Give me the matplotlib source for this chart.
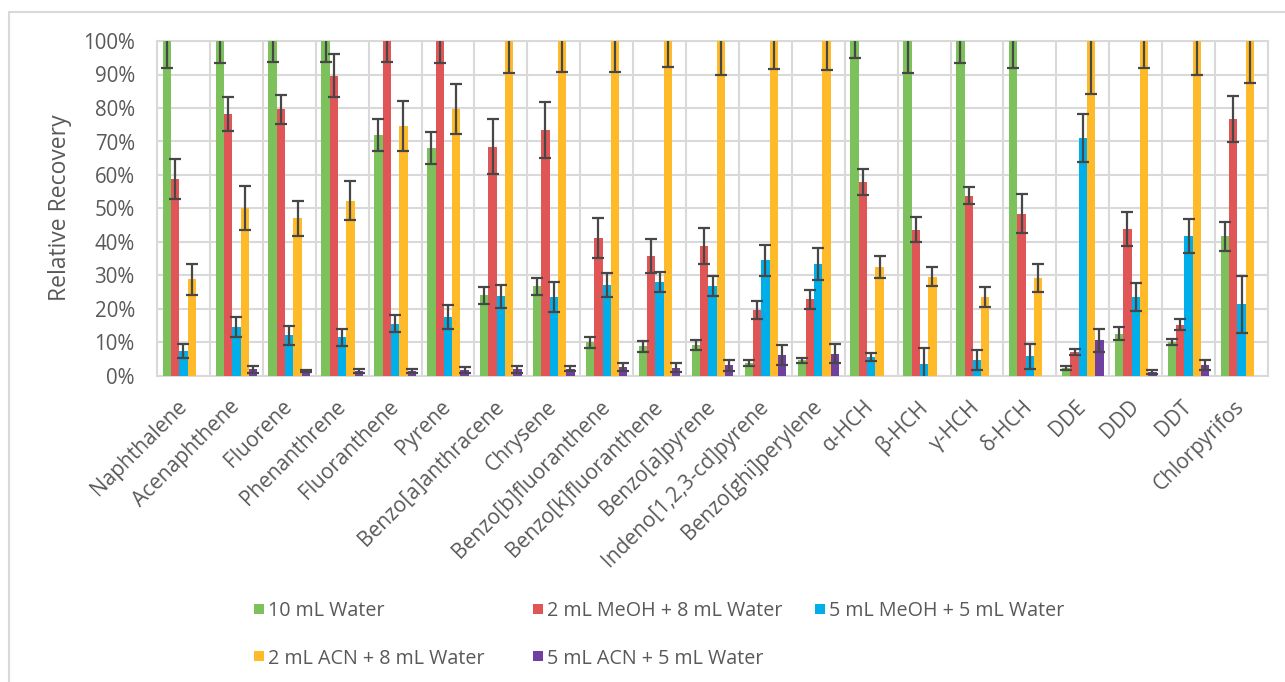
import numpy as np
import matplotlib
matplotlib.use("Agg")
import matplotlib.pyplot as plt
from matplotlib.patches import Rectangle
from matplotlib.ticker import PercentFormatter, MultipleLocator

categories = ["Naphthalene", "Acenaphthene", "Fluorene", "Phenanthrene", "Fluoranthene",
              "Pyrene", "Benzo[a]anthracene", "Chrysene", "Benzo[b]fluoranthene",
              "Benzo[k]fluoranthene", "Benzo[a]pyrene", "Indeno[1,2,3-cd]pyrene",
              "Benzo[ghi]perylene", "α-HCH", "β-HCH", "γ-HCH", "δ-HCH", "DDE", "DDD",
              "DDT", "Chlorpyrifos"]

series_names = ["10 mL Water", "2 mL MeOH + 8 mL Water", "5 mL MeOH + 5 mL Water",
                "2 mL ACN + 8 mL Water", "5 mL ACN + 5 mL Water"]

green = [104, 104, 104, 104, 72.0, 68.0, 24.1, 26.8, 10.0, 8.9, 9.2, 3.9, 4.7,
         104, 104, 104, 104, 2.4, 12.6, 10.2, 41.7]
green_err = [12.0, 10.7, 10.4, 10.4, 4.7, 4.7, 2.6, 2.5, 1.5, 1.6, 1.4, 1.0, 0.7,
             9.2, 13.6, 10.7, 12.1, 0.5, 2.0, 0.9, 4.4]

red = [58.7, 78.2, 79.6, 89.7, 104, 104, 68.5, 73.5, 41.2, 35.8, 38.8, 19.6, 22.9,
       57.9, 43.7, 53.8, 48.5, 7.2, 44.0, 15.3, 76.7]
red_err = [6.0, 5.2, 4.3, 6.3, 10.4, 10.7, 8.3, 8.4, 5.9, 5.0, 5.4, 2.7, 2.8,
           4.0, 3.7, 2.5, 5.9, 0.8, 5.1, 1.6, 6.8]

blue = [7.4, 14.7, 12.1, 11.5, 15.6, 17.6, 23.8, 23.6, 27.1, 28.0, 26.8, 34.5, 33.5,
        5.7, 3.7, 4.7, 5.9, 71.1, 23.6, 41.8, 21.4]
blue_err = [2.1, 3.0, 2.8, 2.4, 2.6, 3.5, 3.4, 4.6, 3.6, 3.0, 3.0, 4.6, 4.7,
            1.2, 4.7, 3.0, 3.8, 7.2, 4.3, 5.0, 8.5]

yellow = [28.9, 50.2, 47.1, 52.3, 74.6, 79.7, 104, 104, 104, 104, 104, 104, 104,
          32.6, 29.6, 23.6, 29.2, 104, 104, 104, 104]
yellow_err = [4.6, 6.5, 5.2, 5.8, 7.5, 7.4, 13.6, 13.4, 13.4, 11.8, 14.1, 12.5, 12.8,
              3.3, 2.8, 2.9, 4.2, 19.7, 12.1, 14.1, 16.5]

purple = [0, 2.0, 1.5, 1.5, 1.5, 1.8, 2.0, 2.2, 2.7, 2.5, 3.2, 6.2, 6.7,
          0, 0, 0, 0, 10.6, 1.2, 3.4, 0]
purple_err = [0, 1.0, 0.3, 0.5, 0.7, 0.8, 1.0, 0.8, 1.3, 1.3, 1.6, 3.0, 2.9,
              0, 0, 0, 0, 3.3, 0.6, 1.5, 0]

colors = ["#7CC15B", "#E05656", "#00AEEA", "#FFBA2A", "#7040A0"]
values = [green, red, blue, yellow, purple]
errors = [green_err, red_err, blue_err, yellow_err, purple_err]

plt.rcParams['font.family'] = ['Open Sans', 'DejaVu Sans']
text_color = "#595959"
grid_color = "#D9D9D9"

W, H = 1285, 682
fig = plt.figure(figsize=(W/100, H/100), dpi=100)
ax = fig.add_axes([157/W, 1-376/H, (1268-157)/W, (376-41)/H])

x = np.arange(len(categories))
bw = 0.157
for i, (vals, errs, col) in enumerate(zip(values, errors, colors)):
    v = np.array(vals) / 100.0
    e = np.array(errs) / 100.0
    pos = x + (i - 2) * bw
    ax.bar(pos, v, width=bw, color=col, zorder=3, linewidth=0)
    m = v > 0
    ax.errorbar(pos[m], v[m], yerr=e[m], fmt='none', ecolor="#474747",
                elinewidth=1.6, capsize=4.2, capthick=1.6, zorder=4)

ax.set_xlim(-0.5, len(categories) - 0.5)
ax.set_ylim(0, 1.0)
ax.yaxis.set_major_locator(MultipleLocator(0.1))
ax.yaxis.set_major_formatter(PercentFormatter(1.0, decimals=0))
ax.set_xticks(x)
ax.set_xticklabels(categories, rotation=45, ha='right', va='center',
                   rotation_mode='anchor', fontsize=15, color=text_color)
ax.tick_params(axis='x', length=0, pad=20)
ax.tick_params(axis='y', length=0, pad=16, labelsize=14.8, labelcolor=text_color)

ax.yaxis.grid(True, color=grid_color, linewidth=1.5, zorder=0)
ax.set_xticks(np.arange(-0.5, len(categories), 1.0), minor=True)
ax.xaxis.grid(True, which='minor', color=grid_color, linewidth=1.5, zorder=0)
ax.xaxis.grid(False, which='major')
ax.tick_params(axis='x', which='minor', length=0)
for s in ax.spines.values():
    s.set_color(grid_color)
    s.set_linewidth(1.5)

fig.text(60/W, 1-208/H, "Relative Recovery", rotation=90, ha='center', va='center',
         fontsize=16.5, color=text_color)

# legend laid out in rows like the reference
leg_slots = [(254, 609), (533, 609), (815, 609), (254, 656), (533, 656)]
sq = 10
for (lx, ly), name, col in zip(leg_slots, series_names, colors):
    fig.add_artist(Rectangle((lx/W, 1-(ly+sq/2)/H), sq/W, sq/H, transform=fig.transFigure,
                             facecolor=col, edgecolor='none'))
    fig.text((lx+14)/W, 1-ly/H, name, ha='left', va='center_baseline', fontsize=14.2,
             color=text_color)

fig.add_artist(Rectangle((9/W, -0.1), 1.2, 1.1 - 12/H, transform=fig.transFigure,
                         fill=False, edgecolor=grid_color, linewidth=1.5))

fig.savefig("out.png", dpi=100)
